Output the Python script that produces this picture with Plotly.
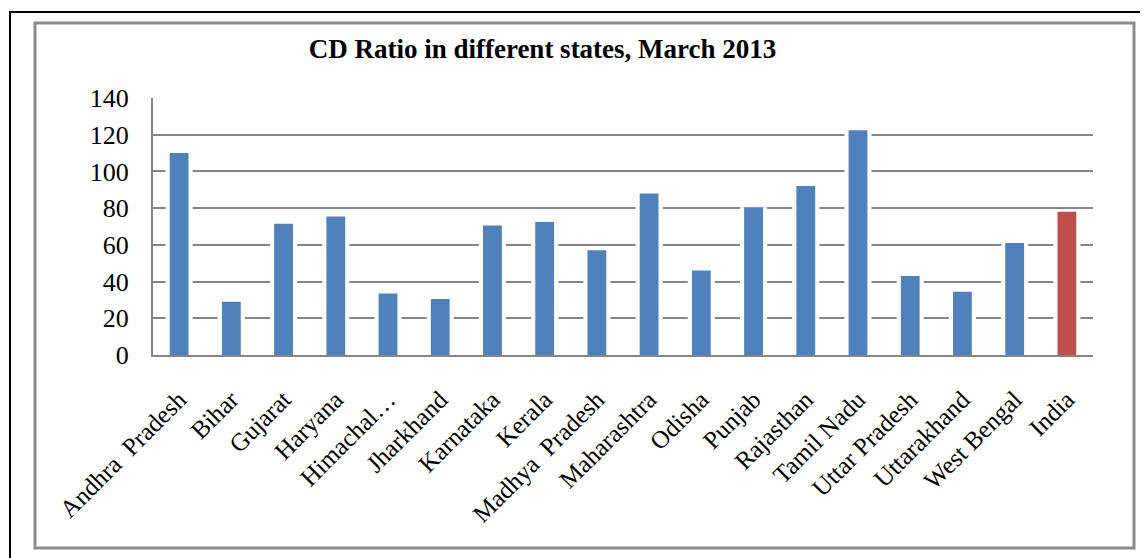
import plotly.graph_objects as go

states = ["Andhra\u00a0\u00a0Pradesh", "Bihar", "Gujarat", "Haryana", "Himachal\u2026", "Jharkhand",
          "Karnataka", "Kerala", "Madhya\u00a0\u00a0Pradesh", "Maharashtra", "Odisha", "Punjab",
          "Rajasthan", "Tamil Nadu", "Uttar Pradesh", "Uttarakhand", "West Bengal", "India"]
cd_ratio = [110, 29, 71.5, 75.5, 33.5, 30.5, 70.5, 72.5, 57, 88, 46, 80.5, 92, 122.5, 43, 34.5, 61, 78]
y_ticks = [0, 20, 40, 60, 80, 100, 120, 140]

colors = ["#4F81BD"] * (len(states) - 1) + ["#C0504D"]

W, H = 1148, 558
OFF = 8  # page body margin
# plot area in screen pixels
SL, SR, ST, SB = 153, 1093, 98, 355
L, T = SL - OFF, ST - OFF
R, B = W - (SR - OFF), H - (SB - OFF)
pw, ph = SR - SL, SB - ST

def px_x(p):
    return (p - SL) / pw

def px_y(p):
    return (SB - p) / ph

fig = go.Figure()
# white halo behind bars (gap in gridlines)
fig.add_trace(go.Bar(x=states, y=cd_ratio, width=0.52, marker=dict(color="white", line=dict(width=0)),
                     hoverinfo="skip", showlegend=False))
fig.add_trace(go.Bar(x=states, y=cd_ratio, width=0.36, marker=dict(color=colors, line=dict(width=0)),
                     showlegend=False))

fig.update_layout(
    width=W, height=H,
    margin=dict(l=L, r=R, t=T, b=B, autoexpand=False),
    paper_bgcolor="white", plot_bgcolor="white",
    barmode="overlay",
    font=dict(family="Liberation Serif, Times New Roman, serif", color="black"),
    title=dict(text="<b>CD Ratio in different states, March 2013</b>",
               x=(542.5 - OFF) / W, xanchor="center", xref="container",
               y=1 - (49 - OFF) / H, yanchor="middle", yref="container",
               font=dict(size=27, family="Liberation Serif, Times New Roman, serif", color="black")),
    xaxis=dict(tickangle=-45, tickfont=dict(size=25), showline=True, linecolor="#868686", linewidth=2,
               showgrid=False, ticks="", automargin=False, ticklabelstandoff=18),
    yaxis=dict(range=[0, 140], tickvals=y_ticks, tickfont=dict(size=26), showline=True,
               linecolor="#868686", linewidth=2, showgrid=True, gridcolor="#868686", gridwidth=1.5,
               zeroline=False, ticks="", ticklabelstandoff=17, automargin=False),
    shapes=[
        dict(type="rect", xref="paper", yref="paper", x0=px_x(10), x1=px_x(1200), y0=px_y(620), y1=px_y(12),
             line=dict(color="black", width=2), fillcolor="rgba(0,0,0,0)", layer="below"),
        dict(type="rect", xref="paper", yref="paper", x0=px_x(35), x1=px_x(1134), y0=px_y(548), y1=px_y(23),
             line=dict(color="#8c8c8c", width=3), fillcolor="rgba(0,0,0,0)", layer="below"),
    ],
)

fig.write_html("out.html")
